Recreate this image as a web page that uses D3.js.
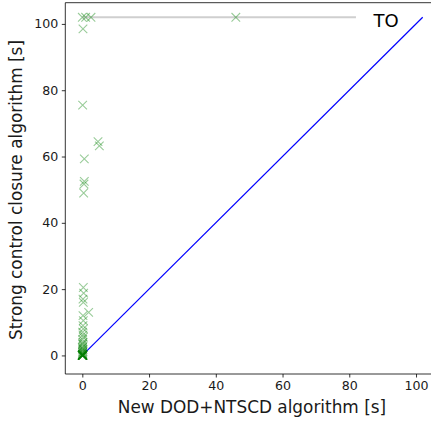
<!DOCTYPE html>
<html><head><meta charset="utf-8">
<script src="https://cdn.jsdelivr.net/npm/d3@7"></script>
<style>body{margin:0;background:#fff}svg{display:block}</style>
</head><body>
<script>
// data: [new DOD+NTSCD time, strong control closure time]
const xTicks = [0, 20, 40, 60, 80, 100];
const yTicks = [0, 20, 40, 60, 80, 100];
const timeoutValue = 102;
const timeoutLineEnd = 82;
const newAlgo = [0, 1, 2.6, 46, 0.2, 0.1, 4.7, 5.1, 0.6, 0.6, 0.5, 0.4,
  0.3, 0.4, 0.2, 0.3, 1.9, 0.2, 0.3, 0.2, 0.3, 0.1, 0.2, 0.3, 0.1, 0.2, 0.1, 0.2, 0.1, 0.1, 0.2, 0.1, 0.1, 0.1, 0.1,
  0, 0.1, 0, 0.2, 0, 0.1, 0, 0.1, 0, 0.2,
  0, 0.1, 0, 0.1, 0, 0.2, 0, 0.1, 0.1, 0.2, 0, 0.1];
const strongClosure = [102, 102, 102, 102, 98.5, 75.5, 64.5, 63.2, 59.3, 52.5, 51.7, 49,
  20.5, 18.8, 17, 16, 13, 12, 10.5, 9, 8, 7, 6.2, 5.5, 4.8, 4, 3.3, 2.7, 2.1, 1.6, 1.2, 0.8, 0.5, 0.3, 0.2,
  0, 0, 0.1, 0, 0.05, 0, 0.1, 0, 0, 0,
  0, 0, 0, 0.1, 0, 0, 0.2, 0.4, 1, 1.8, 2.4, 3.6];
const diagonal = [0, 102];

const W = 431, H = 421;
const svg = d3.select("body").append("svg").attr("width", W).attr("height", H)
  .style("font-family", "'DejaVu Sans', sans-serif");

const mLeft = 65.3, mTop = 2.7, mBottom = 374;
const x = d3.scaleLinear().domain([-5.1, 107.1]).range([mLeft, mLeft + 112.2 * 3.337]);
const y = d3.scaleLinear().domain([-5.6, 106.4]).range([mBottom, mTop]);

svg.append("defs").append("clipPath").attr("id", "c")
  .append("rect").attr("x", mLeft).attr("y", mTop).attr("width", W - mLeft).attr("height", mBottom - mTop);

const g = svg.append("g").attr("clip-path", "url(#c)");

// timeout line
g.append("line").attr("x1", x(0)).attr("x2", x(timeoutLineEnd))
  .attr("y1", y(timeoutValue)).attr("y2", y(timeoutValue))
  .attr("stroke", "#cfcfcf").attr("stroke-width", 2);

// diagonal
g.append("line").attr("x1", x(diagonal[0])).attr("y1", y(diagonal[0]))
  .attr("x2", x(diagonal[1])).attr("y2", y(diagonal[1]))
  .attr("stroke", "#0000ff").attr("stroke-width", 1.2);

// markers
const s = 4.3;
const pts = newAlgo.map((v, i) => [v, strongClosure[i]]);
g.selectAll("path.m").data(pts).join("path").attr("class", "m")
  .attr("d", d => {
    const cx = x(d[0]), cy = y(d[1]);
    return `M${cx - s},${cy - s}L${cx + s},${cy + s}M${cx - s},${cy + s}L${cx + s},${cy - s}`;
  })
  .attr("stroke", "#008000").attr("stroke-opacity", 0.4).attr("stroke-width", 1.1).attr("fill", "none");

// TO text
svg.append("text").attr("x", x(91)).attr("y", y(timeoutValue) + 9.4)
  .attr("text-anchor", "middle").attr("font-size", 18).attr("fill", "#000").text("TO");

// axes
const xAxis = svg.append("g").attr("transform", `translate(0,${mBottom})`)
  .call(d3.axisBottom(x).tickValues(xTicks).tickSize(3.5).tickPadding(3.5));
const yAxis = svg.append("g").attr("transform", `translate(${mLeft},0)`)
  .call(d3.axisLeft(y).tickValues(yTicks).tickSize(3.5).tickPadding(3.5));
[xAxis, yAxis].forEach(a => {
  a.selectAll("text").attr("font-size", 12.6).attr("fill", "#1a1a1a").style("font-family", "'DejaVu Sans', sans-serif");
  a.selectAll("line").attr("stroke", "#000").attr("stroke-width", 0.8);
  a.select(".domain").attr("stroke", "#000").attr("stroke-width", 0.8);
});
xAxis.select(".domain").attr("d", `M${mLeft},0H${W}`);
yAxis.select(".domain").attr("d", `M0,${mBottom}V${mTop}`);
// top spine
svg.append("line").attr("x1", mLeft).attr("x2", W).attr("y1", mTop).attr("y2", mTop)
  .attr("stroke", "#000").attr("stroke-width", 0.8);

// labels
svg.append("text").attr("x", 252).attr("y", 413).attr("text-anchor", "middle")
  .attr("font-size", 16.9).attr("fill", "#1a1a1a").text("New DOD+NTSCD algorithm [s]");
svg.append("text").attr("transform", "translate(22,190) rotate(-90)").attr("text-anchor", "middle")
  .attr("font-size", 16.9).attr("fill", "#1a1a1a").text("Strong control closure algorithm [s]");
</script>
</body></html>
